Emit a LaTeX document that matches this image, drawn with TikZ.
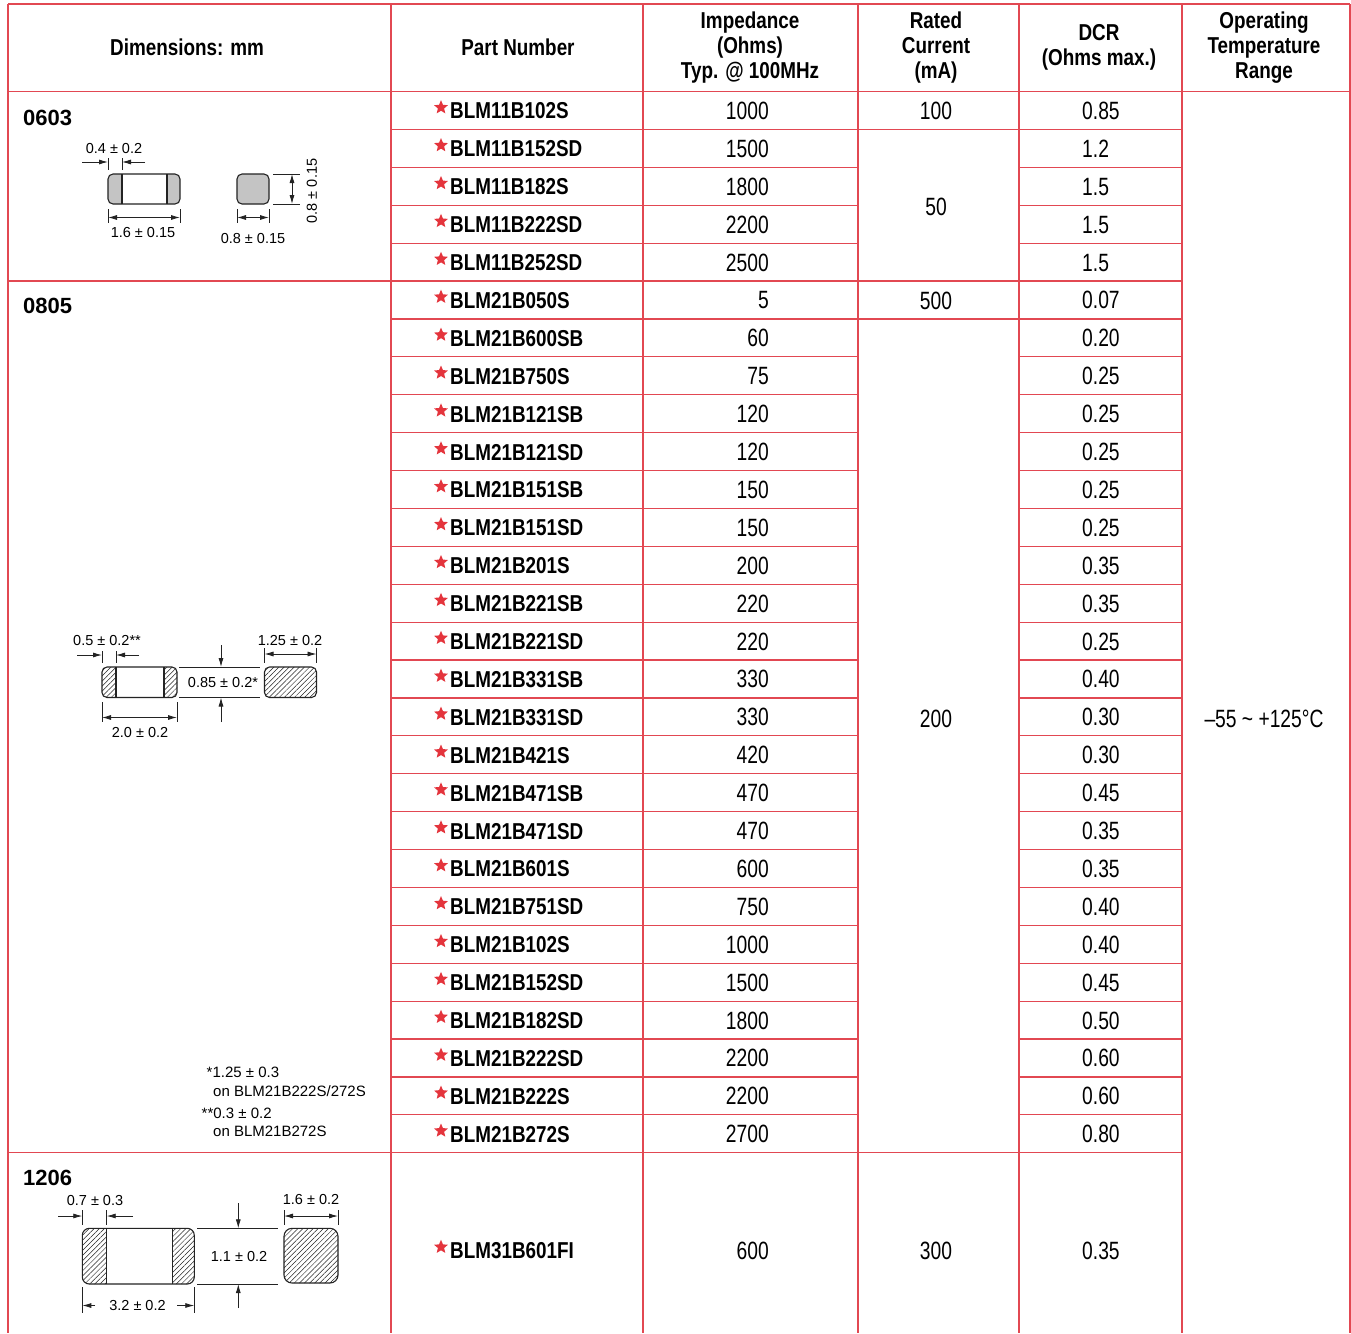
\documentclass[tikz,border=0pt]{standalone}
\usepackage{fontspec}
\setmainfont{Liberation Sans}
\newfontfamily\condfont[FakeStretch=0.77]{Liberation Sans}
\newfontfamily\condbold[FakeStretch=0.82]{Liberation Sans}
\usetikzlibrary{arrows.meta,patterns.meta,shapes.geometric}

\definecolor{gridred}{RGB}{226,72,82}
\definecolor{starred}{RGB}{228,52,60}
\definecolor{padgrey}{RGB}{196,196,196}
\definecolor{inkgrey}{RGB}{35,35,35}

\begin{document}
\begin{tikzpicture}[x=1pt, y=-1pt, >={Latex[length=9pt,width=5pt]}]

        \def\rowtop{91.5}           % upper edge of the first data row
        \def\rowh{37.9}             % height of one data row
        \def\tabbot{1333}           % lower end of the vertical rules
        \tikzstyle{gridline}=[draw=gridred, line width=1.2pt]
        \tikzstyle{head}=[font=\condbold\bfseries\fontsize{23}{25}\selectfont, align=center, inner sep=0pt]
        \tikzstyle{partno}=[font=\condbold\bfseries\fontsize{23}{25}\selectfont, anchor=base west, inner sep=0pt]
        \tikzstyle{val}=[font=\condfont\fontsize{25}{25}\selectfont, inner sep=0pt]
        \tikzstyle{size}=[font=\bfseries\fontsize{22}{22}\selectfont, anchor=base west, inner sep=0pt]
        \tikzstyle{dimtext}=[font=\fontsize{14.5}{16}\selectfont, inner sep=0pt]
        \tikzstyle{note}=[font=\fontsize{15}{16}\selectfont, anchor=west, inner sep=0pt]
        \tikzstyle{dimline}=[draw=inkgrey, line width=0.8pt]
        \tikzstyle{outline}=[draw=inkgrey, line width=1.1pt]
        \tikzstyle{dimarrow}=[dimline, ->]
        \tikzstyle{dimboth}=[dimline, <->]
        \tikzstyle{pad}=[pattern={Lines[angle=45,distance=3.6pt,line width=0.5pt]}, pattern color=inkgrey]
        \tikzstyle{redstar}=[star, star points=5, star point ratio=2.2, fill=starred, inner sep=0pt, minimum size=14.5pt]

        \useasboundingbox[fill=white] (0,0) rectangle (1351,1333);

        % Header row
            \node[head] (h-dim) at (187,47) {Dimensions: mm};
            \node[head] (h-pn)  at (518,47) {Part Number};
            \node[head] (h-imp) at (750,48) {Impedance\\(Ohms)\\Typ. @ 100MHz};
            \node[head] (h-cur) at (936,48) {Rated\\Current\\(mA)};
            \node[head] (h-dcr) at (1099,47) {DCR\\(Ohms max.)};
            \node[head] (h-tmp) at (1264,48) {Operating\\Temperature\\Range};

        % Part number, impedance and DCR of every row
            \foreach \i/\pn/\imp/\dcr in {1/BLM11B102S/1000/0.85, 2/BLM11B152SD/1500/1.2,
                3/BLM11B182S/1800/1.5, 4/BLM11B222SD/2200/1.5, 5/BLM11B252SD/2500/1.5,
                6/BLM21B050S/5/0.07, 7/BLM21B600SB/60/0.20, 8/BLM21B750S/75/0.25,
                9/BLM21B121SB/120/0.25, 10/BLM21B121SD/120/0.25, 11/BLM21B151SB/150/0.25,
                12/BLM21B151SD/150/0.25, 13/BLM21B201S/200/0.35, 14/BLM21B221SB/220/0.35,
                15/BLM21B221SD/220/0.25, 16/BLM21B331SB/330/0.40, 17/BLM21B331SD/330/0.30,
                18/BLM21B421S/420/0.30, 19/BLM21B471SB/470/0.45, 20/BLM21B471SD/470/0.35,
                21/BLM21B601S/600/0.35, 22/BLM21B751SD/750/0.40, 23/BLM21B102S/1000/0.40,
                24/BLM21B152SD/1500/0.45, 25/BLM21B182SD/1800/0.50, 26/BLM21B222SD/2200/0.60,
                27/BLM21B222S/2200/0.60, 28/BLM21B272S/2700/0.80}{
                \pgfmathsetmacro\yc{\rowtop+(\i-0.5)*\rowh}
                \node[redstar] (st-\i) at (441,\yc-3) {};
                \node[partno] (pn-\i) at (450,\yc+8.5) {\pn};
                \node[val, anchor=base east] (imp-\i) at (769,\yc+9) {\imp};
                \node[val, anchor=base west] (dcr-\i) at (1082,\yc+9) {\dcr};
            }
        % The single 1206 row
            \node[redstar] (st-29) at (441,1247) {};
            \node[partno] (pn-29) at (450,1258.5) {BLM31B601FI};
            \node[val, anchor=base east] (imp-29) at (769,1259) {600};
            \node[val, anchor=base west] (dcr-29) at (1082,1259) {0.35};

        % Rated current (merged cells) and temperature range
            \node[val, anchor=base] (cur-1) at (936,119.5) {100};
            \node[val, anchor=base] (cur-2) at (936,215) {50};
            \node[val, anchor=base] (cur-6) at (936,309) {500};
            \node[val, anchor=base] (cur-7) at (936,727) {200};
            \node[val, anchor=base] (cur-29) at (936,1259) {300};
            \node[val, anchor=base] (tmp) at (1264,727) {–55 \char"007E\ +125°C};

        % Rules of the table
            \foreach \xv in {8,391,643,858,1019,1182,1350}{
                \draw[gridline] (\xv,4) -- (\xv,\tabbot);
            }
            \draw[gridline] (8,4) -- (1350,4);
            \draw[gridline] (8,\rowtop) -- (1350,\rowtop);
            \foreach \k in {1,...,27}{
                \pgfmathsetmacro\yl{\rowtop+\k*\rowh}
                \draw[gridline] (391,\yl) -- (858,\yl);
                \draw[gridline] (1019,\yl) -- (1182,\yl);
            }
            \foreach \k in {1,6}{
                \draw[gridline] (858,\rowtop+\k*\rowh) -- (1019,\rowtop+\k*\rowh);
            }
            \foreach \k in {5,28}{
                \draw[gridline] (8,\rowtop+\k*\rowh) -- (1182,\rowtop+\k*\rowh);
            }

        % Size labels
            \node[size] (s-0603) at (23,125) {0603};
            \node[size] (s-0805) at (23,313) {0805};
            \node[size] (s-1206) at (23,1185) {1206};

        % 0603 chip, front and side
            \begin{scope}
                \clip[rounded corners=5pt] (108,174) rectangle (180,204);
                \fill[padgrey] (108,174) rectangle (122,204) (167,174) rectangle (180,204);
            \end{scope}
            \draw[outline, rounded corners=5pt] (108,174) rectangle (180,204);
            \draw[outline] (122,174) -- (122,204) (167,174) -- (167,204);
            \draw[outline, fill=padgrey, rounded corners=5pt] (237,174) rectangle (269,204);
            \draw[dimline] (108,158) -- (108,170) (122,158) -- (122,170);
            \draw[dimarrow] (82,162) -- (108,162);
            \draw[dimarrow] (145,162) -- (122,162);
            \node[dimtext] (a-t) at (114,149) {0.4 ± 0.2};
            \draw[dimline] (108,209) -- (108,223) (180,209) -- (180,223);
            \draw[dimboth] (108,217.5) -- (180,217.5);
            \node[dimtext] (a-l) at (143,233) {1.6 ± 0.15};
            \draw[dimline] (273,174) -- (300,174) (273,204) -- (300,204);
            \draw[dimboth] (292,174) -- (292,204);
            \node[dimtext, rotate=90] (a-h) at (312,191) {0.8 ± 0.15};
            \draw[dimline] (237,209) -- (237,223) (269,209) -- (269,223);
            \draw[dimboth] (237,217.5) -- (269,217.5);
            \node[dimtext] (a-w) at (253,239) {0.8 ± 0.15};

        % 0805 chip, front and side
            \begin{scope}
                \clip[rounded corners=5pt] (102,667) rectangle (177,697.5);
                \path[pad] (102,667) rectangle (116,697.5) (164,667) rectangle (177,697.5);
            \end{scope}
            \draw[outline, rounded corners=5pt] (102,667) rectangle (177,697.5);
            \draw[outline] (116,667) -- (116,697.5) (164,667) -- (164,697.5);
            \path[pad, rounded corners=5pt] (264.5,667) rectangle (316.5,697.5);
            \draw[outline, rounded corners=5pt] (264.5,667) rectangle (316.5,697.5);
            \draw[dimline] (102,651) -- (102,663) (116,651) -- (116,663);
            \draw[dimarrow] (77,655) -- (102,655);
            \draw[dimarrow] (139,655) -- (116,655);
            \node[dimtext] (b-t) at (107,640.5) {0.5 ± 0.2**};
            \draw[dimline] (102,702) -- (102,722) (177,702) -- (177,722);
            \draw[dimboth] (102,717.5) -- (177,717.5);
            \node[dimtext] (b-l) at (140,732) {2.0 ± 0.2};
            \draw[dimline] (179,667) -- (260,667) (179,697.5) -- (260,697.5);
            \draw[dimarrow] (221,645) -- (221,667);
            \draw[dimarrow] (221,722) -- (221,697.5);
            \node[dimtext] (b-h) at (223,682) {0.85 ± 0.2*};
            \draw[dimline] (264.5,648) -- (264.5,663) (316.5,648) -- (316.5,663);
            \draw[dimboth] (264.5,654) -- (316.5,654);
            \node[dimtext] (b-w) at (290,640.5) {1.25 ± 0.2};

        % Notes of the 0805 sizes
            \node[note] (n-1) at (206.5,1072) {*1.25 ± 0.3};
            \node[note] (n-2) at (213,1091.5) {on BLM21B222S/272S};
            \node[note] (n-3) at (201.5,1113.5) {**0.3 ± 0.2};
            \node[note] (n-4) at (213,1131.5) {on BLM21B272S};

        % 1206 chip, front and side
            \begin{scope}
                \clip[rounded corners=7pt] (82.3,1228.3) rectangle (194.3,1284);
                \path[pad] (82.3,1228.3) rectangle (106.7,1284) (172.3,1228.3) rectangle (194.3,1284);
            \end{scope}
            \draw[outline, rounded corners=7pt] (82.3,1228.3) rectangle (194.3,1284);
            \draw[outline] (106.7,1228.3) -- (106.7,1284) (172.3,1228.3) -- (172.3,1284);
            \path[pad, rounded corners=8pt] (284,1228.3) rectangle (338,1283);
            \draw[outline, rounded corners=8pt] (284,1228.3) rectangle (338,1283);
            \draw[dimline] (82.3,1210) -- (82.3,1225) (106.7,1210) -- (106.7,1225);
            \draw[dimarrow] (58,1216) -- (82.3,1216);
            \draw[dimarrow] (133,1216) -- (106.7,1216);
            \node[dimtext] (c-t) at (95,1200) {0.7 ± 0.3};
            \draw[dimline] (82.3,1287) -- (82.3,1313) (194.3,1287) -- (194.3,1313);
            \draw[dimarrow] (95,1305.5) -- (82.3,1305.5);
            \draw[dimarrow] (177,1305.5) -- (194.3,1305.5);
            \node[dimtext] (c-l) at (137.5,1305) {3.2 ± 0.2};
            \draw[dimline] (197,1228.3) -- (278,1228.3) (197,1284) -- (278,1284);
            \draw[dimarrow] (238.3,1203) -- (238.3,1228.3);
            \draw[dimarrow] (238.3,1308) -- (238.3,1284);
            \node[dimtext] (c-h) at (239,1256) {1.1 ± 0.2};
            \draw[dimline] (284,1210) -- (284,1225) (338,1210) -- (338,1225);
            \draw[dimboth] (284,1216) -- (338,1216);
            \node[dimtext] (c-w) at (311,1199.5) {1.6 ± 0.2};

\end{tikzpicture}
\end{document}
